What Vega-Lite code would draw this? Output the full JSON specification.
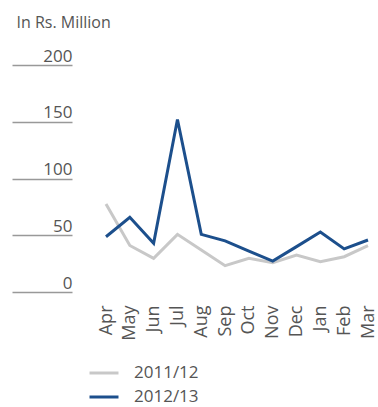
{
  "$schema": "https://vega.github.io/schema/vega-lite/v6.json",
  "autosize": "none",
  "padding": {"left": 106, "top": 65, "right": 10, "bottom": 115},
  "width": 262,
  "height": 227,
  "background": "white",
  "config": {"view": {"stroke": null}, "font": "Open Sans"},
  "data": {"values": [
    {"month": "Apr", "year": "2011/12", "value": 77.5},
    {"month": "May", "year": "2011/12", "value": 41},
    {"month": "Jun", "year": "2011/12", "value": 29.7},
    {"month": "Jul", "year": "2011/12", "value": 50.8},
    {"month": "Aug", "year": "2011/12", "value": 37},
    {"month": "Sep", "year": "2011/12", "value": 23.2},
    {"month": "Oct", "year": "2011/12", "value": 29.7},
    {"month": "Nov", "year": "2011/12", "value": 25.8},
    {"month": "Dec", "year": "2011/12", "value": 32.6},
    {"month": "Jan", "year": "2011/12", "value": 26.7},
    {"month": "Feb", "year": "2011/12", "value": 31.1},
    {"month": "Mar", "year": "2011/12", "value": 40.8},
    {"month": "Apr", "year": "2012/13", "value": 48.7},
    {"month": "May", "year": "2012/13", "value": 65.8},
    {"month": "Jun", "year": "2012/13", "value": 42.9},
    {"month": "Jul", "year": "2012/13", "value": 152},
    {"month": "Aug", "year": "2012/13", "value": 50.8},
    {"month": "Sep", "year": "2012/13", "value": 45},
    {"month": "Oct", "year": "2012/13", "value": 36},
    {"month": "Nov", "year": "2012/13", "value": 27.3},
    {"month": "Dec", "year": "2012/13", "value": 40},
    {"month": "Jan", "year": "2012/13", "value": 52.9},
    {"month": "Feb", "year": "2012/13", "value": 38},
    {"month": "Mar", "year": "2012/13", "value": 45.8}
  ]},
  "mark": {"type": "line", "strokeWidth": 3},
  "encoding": {
    "x": {
      "field": "month", "type": "ordinal", "sort": null,
      "scale": {"type": "point", "padding": 0},
      "axis": {
        "title": null, "domain": false, "ticks": false, "grid": false,
        "labelAngle": -90, "labelAlign": "right", "labelBaseline": "middle",
        "labelPadding": 13, "labelFontSize": 18, "labelColor": "#555555",
        "labelFont": "Open Sans"
      }
    },
    "y": {
      "field": "value", "type": "quantitative",
      "scale": {"domain": [0, 200]},
      "axis": {
        "values": [0, 50, 100, 150, 200],
        "title": "In Rs. Million", "titleAngle": 0, "titleAlign": "left",
        "titleBaseline": "middle", "titleX": -56, "titleY": -43,
        "titleFontSize": 16, "titleFontWeight": "normal", "titleColor": "#555555",
        "titleFont": "Open Sans",
        "offset": 34, "domain": false, "grid": false,
        "ticks": true, "tickSize": 60, "tickColor": "#999999", "tickWidth": 1.5,
        "labelPadding": -60, "labelAlign": "right", "labelBaseline": "alphabetic",
        "labelOffset": -4, "labelFontSize": 17, "labelColor": "#555555",
        "labelFont": "Open Sans"
      }
    },
    "color": {
      "field": "year", "type": "nominal",
      "scale": {"domain": ["2011/12", "2012/13"], "range": ["#c8c8c8", "#1c4f8c"]},
      "legend": {
        "title": null, "orient": "none", "legendX": -11, "legendY": 299,
        "direction": "vertical", "columns": 1, "padding": 0, "offset": 0,
        "symbolType": "M-2,0H2", "symbolSize": 210, "symbolStrokeWidth": 3,
        "symbolFillColor": "transparent",
        "labelFontSize": 17, "labelColor": "#555555", "labelOffset": 21,
        "rowPadding": 7, "labelFont": "Open Sans"
      }
    }
  }
}
